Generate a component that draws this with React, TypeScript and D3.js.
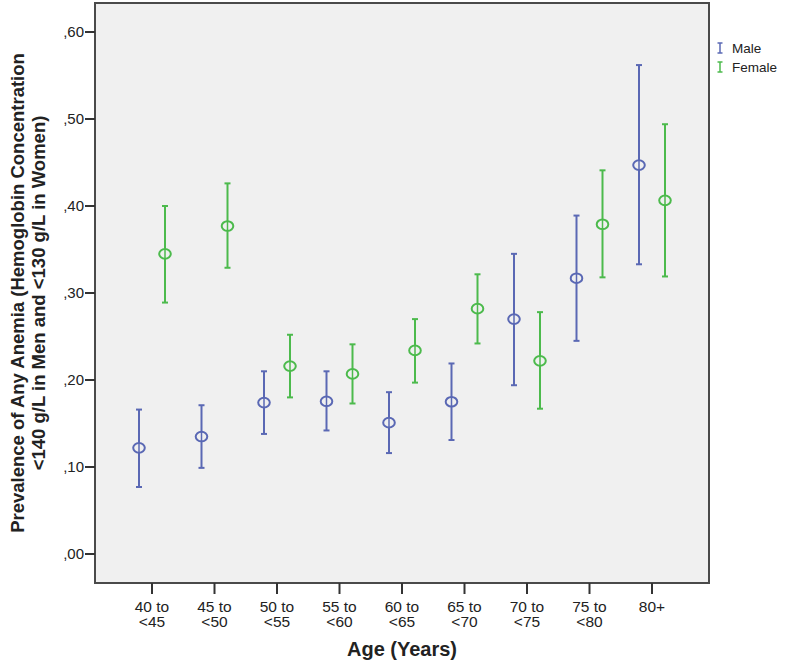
import React from "react";
import * as d3 from "d3";

const categories = ["40 to <45", "45 to <50", "50 to <55", "55 to <60", "60 to <65", "65 to <70", "70 to <75", "75 to <80", "80+"];
const maleMean = [0.122, 0.135, 0.174, 0.1755, 0.151, 0.175, 0.270, 0.317, 0.447];
const maleLow = [0.077, 0.099, 0.138, 0.142, 0.116, 0.131, 0.194, 0.245, 0.333];
const maleHigh = [0.166, 0.171, 0.210, 0.210, 0.186, 0.219, 0.345, 0.389, 0.562];
const femaleMean = [0.345, 0.377, 0.216, 0.207, 0.234, 0.282, 0.222, 0.379, 0.4065];
const femaleLow = [0.289, 0.329, 0.180, 0.173, 0.197, 0.242, 0.167, 0.318, 0.319];
const femaleHigh = [0.400, 0.426, 0.252, 0.241, 0.270, 0.3215, 0.278, 0.441, 0.494];
const yTicks = [0, 0.1, 0.2, 0.3, 0.4, 0.5, 0.6];
const seriesNames = ["Male", "Female"];

const W = 787, H = 662;
const FL = 95, FR = 709, FT = 3, FB = 583;
const MALE = "#5a68b4";
const FEMALE = "#4cba4c";
const FONT = "'Liberation Sans', Arial, sans-serif";

export default function App() {
  const x = d3.scalePoint<string>().domain(categories).range([FL, FR]).padding(0.912);
  const y = d3.scaleLinear().domain([0, 0.6]).range([554, 32]);
  const fmt = (v: number) => d3.format(".2f")(v).replace("0.", ",");
  const series = [
    { name: seriesNames[0], color: MALE, mean: maleMean, low: maleLow, high: maleHigh, dx: -13 },
    { name: seriesNames[1], color: FEMALE, mean: femaleMean, low: femaleLow, high: femaleHigh, dx: 13 },
  ];
  return (
    <svg width={W} height={H} style={{ position: "absolute", left: 0, top: 0 }} fontFamily={FONT}>
      <rect x={0} y={0} width={W} height={H} fill="#fff" />
      <rect x={FL} y={FT} width={FR - FL} height={FB - FT} fill="#f0f0f0" stroke="#4a4a4a" strokeWidth={2} />
      {yTicks.map((t) => (
        <g key={t}>
          <line x1={FL - 10} x2={FL} y1={y(t)} y2={y(t)} stroke="#333" strokeWidth={2} />
          <text x={FL - 11} y={y(t)} dy="0.35em" textAnchor="end" fontSize={15} fill="#222">{fmt(t)}</text>
        </g>
      ))}
      {categories.map((c) => {
        const parts = c.split(/(?<=to) /);
        const cx = x(c)!;
        return (
          <g key={c}>
            <line x1={cx} x2={cx} y1={FB} y2={FB + 11} stroke="#333" strokeWidth={2} />
            {parts.map((p, i) => (
              <text key={i} x={cx} y={612 + i * 14.5} textAnchor="middle" fontSize={15.5} fill="#222">{p}</text>
            ))}
          </g>
        );
      })}
      {series.map((s) => (
        <g key={s.name}>
          {categories.map((c, i) => {
            const cx = x(c)! + s.dx;
            return (
              <g key={c} stroke={s.color} fill="none" strokeWidth={2}>
                <line x1={cx} x2={cx} y1={y(s.low[i])} y2={y(s.high[i])} />
                <line x1={cx - 3} x2={cx + 3} y1={y(s.low[i])} y2={y(s.low[i])} />
                <line x1={cx - 3} x2={cx + 3} y1={y(s.high[i])} y2={y(s.high[i])} />
                <ellipse cx={cx} cy={y(s.mean[i])} rx={5.8} ry={4.8} fill="#f0f0f0" />
                <line x1={cx} x2={cx} y1={y(s.mean[i]) - 4.8} y2={y(s.mean[i]) + 4.8} strokeWidth={1.5} />
              </g>
            );
          })}
        </g>
      ))}
      {series.map((s, i) => {
        const ly = 48 + i * 19;
        return (
          <g key={s.name}>
            <g stroke={s.color} strokeWidth={1.5}>
              <line x1={720} x2={720} y1={ly - 5} y2={ly + 5} />
              <line x1={717.5} x2={722.5} y1={ly - 5} y2={ly - 5} />
              <line x1={717.5} x2={722.5} y1={ly + 5} y2={ly + 5} />
            </g>
            <text x={732} y={ly} dy="0.35em" fontSize={13.5} fill="#222">{s.name}</text>
          </g>
        );
      })}
      <text x={402} y={656} textAnchor="middle" fontSize={20} fontWeight="bold" fill="#222">Age (Years)</text>
      <g transform={`translate(0, ${(FT + FB) / 2}) rotate(-90)`}>
        <text x={0} y={24} textAnchor="middle" fontSize={18.5} fontWeight="bold" fill="#222">Prevalence of Any Anemia (Hemoglobin Concentration</text>
        <text x={0} y={45} textAnchor="middle" fontSize={18.5} fontWeight="bold" fill="#222">&lt;140 g/L in Men and &lt;130 g/L in Women)</text>
      </g>
    </svg>
  );
}
